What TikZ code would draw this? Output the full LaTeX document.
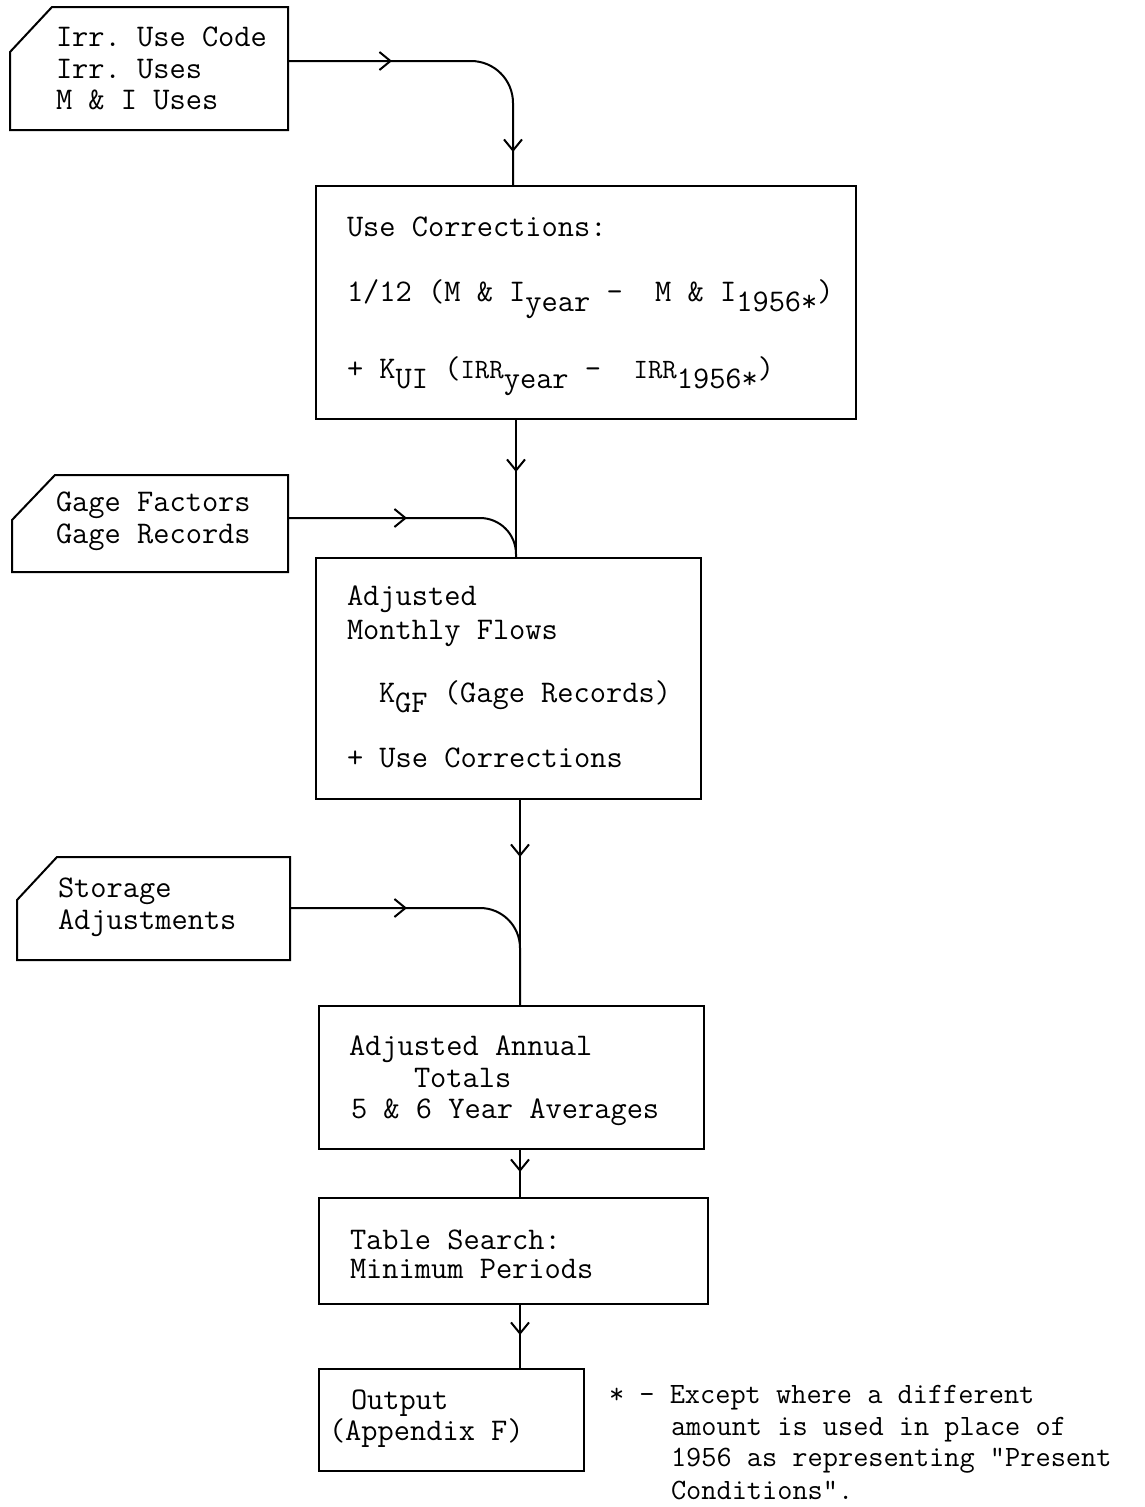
\documentclass[tikz,border=0pt]{standalone}
\usetikzlibrary{arrows.meta,decorations.markings,calc}
\frenchspacing
\newcommand\tyf{\ttfamily\frenchspacing\fontsize{31.5}{33}\selectfont}
\newcommand\tyfs{\ttfamily\frenchspacing\fontsize{29.5}{32}\selectfont}
\newcommand\lowr[1]{\raisebox{-10pt}{#1}}
\newcommand\smallcaps[1]{{\fontsize{28}{28}\selectfont #1}}
\begin{document}
\begin{tikzpicture}[x=1pt,y=-1pt,line width=2pt,
  box/.style={draw, rectangle, anchor=north west, inner sep=0pt},
  card/.style={rectangle, anchor=north west, inner sep=0pt},
  txt/.style={anchor=base west, inner sep=0pt, font=\tyf},
  ftxt/.style={anchor=base west, inner sep=0pt, font=\tyfs},
  arrat/.style={postaction={decorate,decoration={markings,
    mark=at position #1 with {\arrow[line width=2pt]{Straight Barb[length=11pt,width=18pt]}}}}}
]
\useasboundingbox (0,0) rectangle (1145,1507);

% ---------- boxes ----------
\node[card, minimum width=276pt, minimum height=121pt] (in1) at (10,7) {};
\draw (in1.south west) -- ($(in1.north west)+(0pt,-45pt)$) -- ($(in1.north west)+(42pt,0pt)$)
  -- (in1.north east) -- (in1.south east) -- cycle;
\node[box, minimum width=540pt, minimum height=233pt] (b2) at (315,185) {};
\node[card, minimum width=274pt, minimum height=95pt] (g) at (12,475) {};
\draw (g.south west) -- ($(g.north west)+(0pt,-45pt)$) -- ($(g.north west)+(43pt,0pt)$)
  -- (g.north east) -- (g.south east) -- cycle;
\node[box, minimum width=385pt, minimum height=241pt] (b3) at (315,557) {};
\node[card, minimum width=271pt, minimum height=101pt] (s) at (17,857) {};
\draw (s.south west) -- ($(s.north west)+(0pt,-43pt)$) -- ($(s.north west)+(40pt,0pt)$)
  -- (s.north east) -- (s.south east) -- cycle;
\node[box, minimum width=385pt, minimum height=143pt] (b4) at (318,1005) {};
\node[box, minimum width=389pt, minimum height=106pt] (b5) at (318,1197) {};
\node[box, minimum width=265pt, minimum height=102pt] (b6) at (318,1368) {};

% ---------- texts ----------
\node[txt] (t1a) at (55,46) {Irr. Use Code};
\node[txt] (t1b) at (55,78) {Irr. Uses};
\node[txt] (t1c) at (55,109) {M \& I Uses};

\node[txt] (t2a) at (346,236) {Use Corrections:};
\node[txt] (t2b) at (346,301) {1/12 (M \& I\lowr{year} -\ \ M \& I\lowr{1956*})};
\node[txt] (t2c) at (346,378) {+ K\lowr{UI} (\smallcaps{IRR}\lowr{year} -\ \ \smallcaps{IRR}\lowr{1956*})};

\node[txt] (tga) at (55,511) {Gage Factors};
\node[txt] (tgb) at (55,543) {Gage Records};

\node[txt] (t3a) at (346,605) {Adjusted};
\node[txt] (t3b) at (346,639) {Monthly Flows};
\node[txt] (t3c) at (378,702) {K\lowr{GF} (Gage Records)};
\node[txt] (t3d) at (346,767) {+ Use Corrections};

\node[txt] (tsa) at (57,897) {Storage};
\node[txt] (tsb) at (57,929) {Adjustments};

\node[txt] (t4a) at (348,1055) {Adjusted Annual};
\node[txt] (t4b) at (413,1087) {Totals};
\node[txt] (t4c) at (350,1118) {5 \& 6 Year Averages};

\node[txt] (t5a) at (349,1249) {Table Search:};
\node[txt] (t5b) at (349,1278) {Minimum Periods};

\node[txt] (t6a) at (350,1409) {Output};
\node[txt] (t6b) at (328,1440) {(Appendix F)};

\node[ftxt] (fa) at (608,1403) {* - Except where a different};
\node[ftxt] (fb) at (670,1435) {amount is used in place of};
\node[ftxt] (fc) at (670,1466) {1956 as representing "Present};
\node[ftxt] (fd) at (670,1499) {Conditions".};

% ---------- connectors ----------
\coordinate (j1) at (513,61);
\coordinate (j2) at (516,518);
\coordinate (j3) at (520,908);

\draw[rounded corners=42pt, arrat=104pt, arrat=298pt]
  (in1.east |- j1) -- (j1) -- (b2.north -| j1);
\draw[arrat=52pt] (b2.south -| j2) -- (b3.north -| j2);
\draw[rounded corners=36pt, arrat=119pt]
  (g.east |- j2) -- (j2) -- (b3.north -| j2);
\draw[arrat=57pt] (b3.south -| j3) -- (b4.north -| j3);
\draw[rounded corners=40pt, arrat=117pt]
  (s.east |- j3) -- (j3) -- (b4.north -| j3);
\draw[arrat=22pt] (b4.south -| j3) -- (b5.north -| j3);
\draw[arrat=30pt] (b5.south -| j3) -- (b6.north -| j3);
\end{tikzpicture}
\end{document}
